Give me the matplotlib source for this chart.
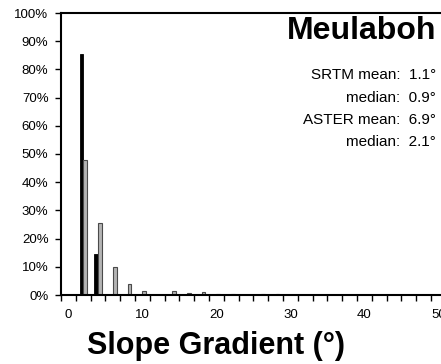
import numpy as np
import matplotlib
matplotlib.use('Agg')
import matplotlib.pyplot as plt
from matplotlib.ticker import FixedLocator, FixedFormatter

plt.rcParams['font.family'] = ['Liberation Sans', 'DejaVu Sans']

# slope classes, 2 degree bins
n_bins = 30
bins = np.arange(n_bins)
srtm = np.zeros(n_bins)
aster = np.zeros(n_bins)
srtm[[0, 1, 2]] = [0.3, 85.5, 14.5]
aster[[1, 2, 3, 4, 5, 7, 8, 9, 10, 11, 13, 14]] = [48.0, 25.5, 10.0, 4.0, 1.5, 1.3, 0.6, 1.2, 0.5, 0.5, 0.5, 0.5]

stats_lines = ['SRTM mean:  1.1°', 'median:  0.9°', 'ASTER mean:  6.9°', 'median:  2.1°']

fig = plt.figure(figsize=(4.41, 3.64), dpi=100)
ax = fig.add_axes([61 / 441, 69 / 364, 444 / 441, 282 / 364])

w = 0.25
ax.bar(bins - w / 2, srtm, width=w, color='black', edgecolor='black', linewidth=0.6)
ax.bar(bins + w / 2, aster, width=w, color='#b4b4b4', edgecolor='#4a4a4a', linewidth=0.8)

ax.set_xlim(-0.5, n_bins - 0.5)
ax.set_ylim(0, 100)

# ticks between classes, labels in the middle of every fifth class
ax.xaxis.set_major_locator(FixedLocator(np.arange(n_bins + 1) - 0.5))
ax.xaxis.set_major_formatter(FixedFormatter([]))
ax.xaxis.set_minor_locator(FixedLocator(np.arange(0, n_bins, 5)))
ax.xaxis.set_minor_formatter(FixedFormatter([str(2 * k) for k in range(0, n_bins, 5)]))
ax.tick_params(axis='x', which='major', direction='out', length=4, width=1)
ax.tick_params(axis='x', which='minor', length=0, pad=10, labelsize=9.5)

ax.set_yticks(np.arange(0, 101, 10))
ax.set_yticklabels([f'{v}%' for v in range(0, 101, 10)])
ax.tick_params(axis='y', direction='out', length=4, width=1, labelsize=9.5, pad=5)

for side in ['left', 'bottom', 'top']:
    ax.spines[side].set_linewidth(1.5)
ax.spines['right'].set_visible(False)

# axis title placed on the figure so it sits right under the tick labels
fig.text(216 / 441, 1 - 346 / 364, 'Slope Gradient (°)', ha='center', va='center',
         fontsize=22, fontweight='bold')

fig.text(436 / 441, 1 - 31 / 364, 'Meulaboh', ha='right', va='center', fontsize=23, fontweight='bold')
for i, line in enumerate(stats_lines):
    fig.text(436 / 441, 1 - (75 + 22.5 * i) / 364, line, ha='right', va='center', fontsize=11)

fig.savefig('out.png', dpi=100)
